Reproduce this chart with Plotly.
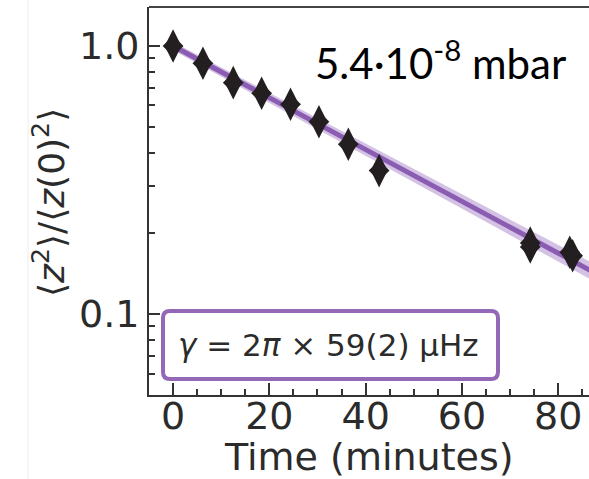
import numpy as np
import plotly.graph_objects as go

# Measured normalised energy versus time
time_min = [0.0, 6.2, 12.5, 18.4, 24.4, 30.3, 36.4, 42.8, 74.2, 74.2, 82.4, 83.0]
ratio = [1.0, 0.862, 0.730, 0.666, 0.606, 0.522, 0.430, 0.343, 0.178, 0.184, 0.170, 0.165]

# Fitted damping rate (µHz) and its uncertainty
gamma_uHz = 59.0
gamma_err_uHz = 1.2
amp_err = 0.035

x_ticks = [0, 20, 40, 60, 80]
x_minor = [5, 10, 15, 25, 30, 35, 45, 50, 55, 65, 70, 75, 85]
y_ticks = [0.1, 1.0]
y_ticklabels = ["0.1", "1.0"]
y_minor = [0.06, 0.07, 0.08, 0.09, 0.2, 0.3, 0.4, 0.5, 0.6, 0.7, 0.8, 0.9]

pressure_label = "5.4·10<sup>-8</sup> mbar"
rate_label = "<i>γ</i> = 2<i>π</i> × 59(2) μHz"

PURPLE = "#9368b7"
AXIS = "#333333"
MARK = "#231f20"

t_fit = np.linspace(0, 90, 200)
per_min = 2 * np.pi * 1e-6 * 60
fit = np.exp(-gamma_uHz * per_min * t_fit)
upper = (1 + amp_err) * np.exp(-(gamma_uHz - gamma_err_uHz) * per_min * t_fit)
lower = (1 - amp_err) * np.exp(-(gamma_uHz + gamma_err_uHz) * per_min * t_fit)

fig = go.Figure()
fig.add_trace(go.Scatter(x=t_fit, y=upper, mode="lines", line=dict(width=0),
                         hoverinfo="skip", showlegend=False))
fig.add_trace(go.Scatter(x=t_fit, y=lower, mode="lines", line=dict(width=0),
                         fill="tonexty", fillcolor="rgba(148,103,189,0.4)",
                         hoverinfo="skip", showlegend=False))
fig.add_trace(go.Scatter(x=t_fit, y=fit, mode="lines",
                         line=dict(color="#8a5cb2", width=5), showlegend=False))
# thin diamonds: a tall diamond with a square one layered on it to widen the waist
fig.add_trace(go.Scatter(x=time_min, y=ratio, mode="markers",
                         marker=dict(symbol="diamond-tall", size=24, color=MARK,
                                     line=dict(width=0)),
                         hoverinfo="skip", showlegend=False))
fig.add_trace(go.Scatter(x=time_min, y=ratio, mode="markers",
                         marker=dict(symbol="diamond", size=16, color=MARK,
                                     line=dict(width=0)),
                         showlegend=False))

tickfont = dict(family="DejaVu Sans", size=38, color="#2b2b2b")

fig.update_xaxes(range=[-5, 86.4], tickvals=x_ticks, ticks="inside", ticklen=12,
                 tickwidth=2, tickcolor=AXIS, showline=True, linecolor=AXIS, linewidth=2,
                 showgrid=False, zeroline=False, tickfont=tickfont, ticklabelstandoff=-14,
                 minor=dict(tickvals=x_minor, ticks="inside", ticklen=6, tickwidth=2,
                            tickcolor=AXIS, showgrid=False))
fig.update_yaxes(type="log", range=[np.log10(0.0499), 0.1455], tickvals=y_ticks,
                 ticktext=y_ticklabels, ticks="inside", ticklen=11, tickwidth=2,
                 tickcolor=AXIS, showline=True, linecolor=AXIS, linewidth=2,
                 showgrid=False, zeroline=False, tickfont=tickfont,
                 minor=dict(tickvals=y_minor, ticks="inside", ticklen=6, tickwidth=2,
                            tickcolor=AXIS, showgrid=False))

# top frame line (right side runs off the canvas)
fig.add_shape(type="line", xref="paper", yref="paper", x0=0, x1=1, y0=1, y1=1,
              line=dict(color="#444444", width=2))
# faint vertical rule on the left
fig.add_shape(type="line", xref="paper", yref="paper", x0=-0.275, x1=-0.275,
              y0=-0.25, y1=1.05, line=dict(color="#ececec", width=1))

# rounded box around the rate label
w, h, r = 335, 68, 7
box_path = (f"M {r},0 L {w - r},0 Q {w},0 {w},{-r} L {w},{-(h - r)} Q {w},{-h} {w - r},{-h} "
            f"L {r},{-h} Q 0,{-h} 0,{-(h - r)} L 0,{-r} Q 0,0 {r},0 Z")
fig.add_shape(type="path", xref="paper", yref="paper", xsizemode="pixel", ysizemode="pixel",
              xanchor=(163 - 149) / 440, yanchor=(395 - 311) / 388, path=box_path,
              line=dict(color=PURPLE, width=4), fillcolor="white")

fig.add_annotation(text=rate_label, xref="paper", yref="paper",
                   x=(328 - 149) / 440, y=(395 - 345) / 388, xanchor="center",
                   yanchor="middle", showarrow=False,
                   font=dict(family="DejaVu Sans", size=31, color="#2b2b2b"))

fig.add_annotation(text=pressure_label, xref="paper", yref="paper",
                   x=(440 - 149) / 440, y=(395 - 60) / 388, xanchor="center",
                   yanchor="middle", showarrow=False,
                   font=dict(family="Lato", size=42, color="black"))

fig.add_annotation(text="Time (minutes)", xref="paper", yref="paper",
                   x=0.5, y=0, yanchor="top", yshift=-38, showarrow=False,
                   font=dict(family="DejaVu Sans", size=38, color="#2b2b2b"))

fig.add_annotation(text="⟨<i>z</i><sup>2</sup>⟩/⟨<i>z</i>(0)<sup>2</sup>⟩", xref="paper",
                   yref="paper", x=(49 - 149) / 440, y=(395 - 203) / 388,
                   xanchor="center", yanchor="middle", textangle=-90, showarrow=False,
                   font=dict(family="DejaVu Sans", size=36, color="#2b2b2b"))

fig.update_layout(width=589, height=479, margin=dict(l=149, r=0, t=7, b=84),
                  plot_bgcolor="white", paper_bgcolor="white")

fig.write_html("out.html")
